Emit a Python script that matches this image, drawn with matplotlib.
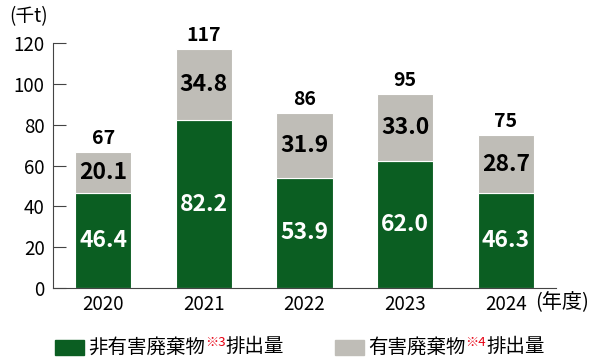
import matplotlib.pyplot as plt
import numpy as np

plt.rcParams['font.family'] = ['Noto Sans CJK JP', 'DejaVu Sans']

years = ['2020', '2021', '2022', '2023', '2024']
non_hazardous = [46.4, 82.2, 53.9, 62.0, 46.3]
hazardous = [20.1, 34.8, 31.9, 33.0, 28.7]
totals = [67, 117, 86, 95, 75]

green = '#0b5e22'
gray = '#bfbdb7'

fig = plt.figure(figsize=(6, 3.62), dpi=100)
ax = fig.add_axes([53/600, 74/362, 503/600, 245/362])

x = np.arange(len(years))
ax.bar(x, non_hazardous, width=0.56, color=green, edgecolor='white', linewidth=0.8)
ax.bar(x, hazardous, width=0.56, bottom=non_hazardous, color=gray, edgecolor='white', linewidth=0.8)

for i in range(len(years)):
    ax.text(x[i], non_hazardous[i]/2, f'{non_hazardous[i]:.1f}', ha='center', va='center',
            color='white', fontsize=16.5, fontweight='bold')
    ax.text(x[i], non_hazardous[i] + hazardous[i]/2, f'{hazardous[i]:.1f}', ha='center', va='center',
            color='black', fontsize=16.5, fontweight='bold')
    ax.annotate(str(totals[i]), (x[i], non_hazardous[i] + hazardous[i]), xytext=(0, 3),
                textcoords='offset points', ha='center', va='bottom', fontsize=14, fontweight='bold')

ax.set_xlim(-0.5, 4.5)
ax.set_ylim(0, 120)
ax.set_yticks(range(0, 121, 20))
ax.set_xticks(x)
ax.set_xticklabels(years)
ax.spines['top'].set_visible(False)
ax.spines['right'].set_visible(False)
ax.spines['left'].set_color('#444444')
ax.spines['bottom'].set_color('#444444')
ax.tick_params(axis='y', direction='in', length=9.5, color='#444444', labelsize=13.5, pad=6)
ax.tick_params(axis='x', length=0, labelsize=13.5, pad=4)

fig.text(9/600, 1 - 17/362, '(千t)', fontsize=13.5, ha='left', va='center')
fig.text(535/600, 1 - 302/362, '(年度)', fontsize=14.5, ha='left', va='center')

# legend drawn by hand so the note marks can be red superscripts
def legend_item(x0, color, name, note):
    fig.patches.append(plt.Rectangle((x0/600, 1 - 355/362), 29/600, 15/362,
                                     transform=fig.transFigure, color=color))
    t = fig.text((x0 + 33)/600, 1 - 347/362, name, fontsize=14, va='center', ha='left')
    fig.canvas.draw()
    bb = t.get_window_extent()
    n = fig.text(bb.x1/600, 1 - 342/362, note, fontsize=9.5, color='#e60012', va='center', ha='left')
    bb2 = n.get_window_extent()
    fig.text(bb2.x1/600, 1 - 347/362, '排出量', fontsize=14, va='center', ha='left')

legend_item(55, green, '非有害廃棄物', '※3')
legend_item(335, gray, '有害廃棄物', '※4')

fig.savefig('out.png', dpi=100)
